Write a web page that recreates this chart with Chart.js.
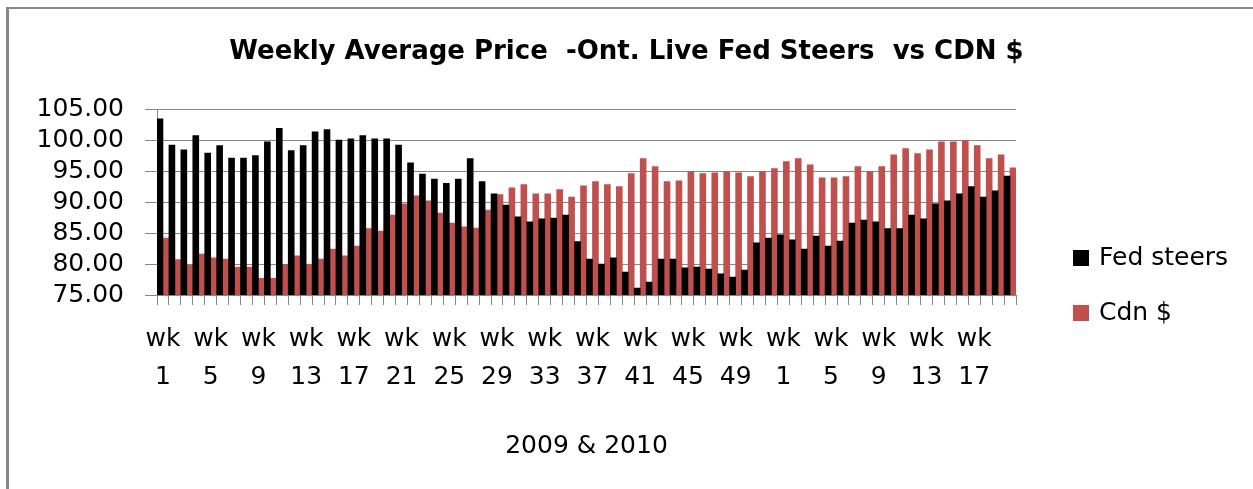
<!DOCTYPE html>
<html>
<head>
<meta charset="utf-8">
<script src="https://cdn.jsdelivr.net/npm/chart.js@4/dist/chart.umd.min.js"></script>
<style>
  html, body { margin: 0; padding: 0; background: #fff; }
  #frame { position: absolute; left: 6px; top: 7px; width: 1247px; height: 482px;
           border-left: 3px solid #878787; border-top: 2px solid #878787; box-sizing: border-box; }
  #chart { position: absolute; left: 0; top: 0; }
</style>
</head>
<body>
<div id="frame"></div>
<canvas id="chart" width="1253" height="489"></canvas>
<script>
// Week numbers: 2009 wk 1-52, then 2010 wk 1-20
const weeks = [
  '1','2','3','4','5','6','7','8','9','10','11','12','13','14','15','16','17','18','19','20',
  '21','22','23','24','25','26','27','28','29','30','31','32','33','34','35','36','37','38','39','40',
  '41','42','43','44','45','46','47','48','49','50','51','52',
  '1','2','3','4','5','6','7','8','9','10','11','12','13','14','15','16','17','18','19','20'
];

const fedSteers = [
  103.4, 99.2, 98.4, 100.7, 97.9, 99.1, 97.1, 97.1, 97.5, 99.7,
  101.9, 98.3, 99.1, 101.3, 101.7, 100.0, 100.2, 100.7, 100.2, 100.2,
  99.2, 96.3, 94.5, 93.7, 93.0, 93.7, 97.0, 93.3, 91.3, 89.5,
  87.6, 86.8, 87.3, 87.4, 87.9, 83.6, 80.8, 80.0, 81.0, 78.7,
  76.1, 77.1, 80.8, 80.8, 79.4, 79.5, 79.2, 78.4, 77.9, 79.0,
  83.4, 84.2,
  84.7, 83.9, 82.4, 84.5, 82.9, 83.7, 86.6, 87.1, 86.8, 85.7,
  85.7, 87.9, 87.3, 89.7, 90.2, 91.3, 92.5, 90.8, 91.8, 94.2
];

const cdnDollar = [
  84.2, 80.7, 79.8, 81.6, 81.0, 80.8, 79.5, 79.5, 77.7, 77.7,
  79.9, 81.3, 79.9, 80.8, 82.4, 81.3, 82.9, 85.7, 85.3, 87.9,
  89.7, 91.0, 90.2, 88.2, 86.6, 86.0, 85.8, 88.7, 91.2, 92.3,
  92.8, 91.3, 91.3, 92.0, 90.8, 92.6, 93.3, 92.8, 92.5, 94.6,
  97.0, 95.7, 93.3, 93.4, 94.9, 94.6, 94.7, 94.9, 94.7, 94.1,
  94.9, 95.4,
  96.5, 97.0, 96.0, 93.9, 93.9, 94.1, 95.7, 94.9, 95.7, 97.6,
  98.6, 97.8, 98.4, 99.7, 99.7, 99.9, 99.1, 97.0, 97.6, 95.5
];

const seriesNames = ['Fed steers', 'Cdn $'];
const seriesColors = ['#000000', '#C0504D'];
const yTicks = [75, 80, 85, 90, 95, 100, 105];

const FONT = 'DejaVu Sans';
const GRID = '#878787';

// legend drawn at the right, like the Excel original
const sideLegend = {
  id: 'sideLegend',
  afterDraw(chart) {
    const ctx = chart.ctx;
    const area = chart.chartArea;
    ctx.save();
    ctx.font = '25px "' + FONT + '"';
    ctx.textBaseline = 'middle';
    ctx.textAlign = 'left';
    chart.data.datasets.forEach((ds, i) => {
      const y = area.bottom - 37 + i * 55;
      ctx.fillStyle = ds.backgroundColor;
      ctx.fillRect(area.right + 57, y - 8, 16, 16);
      ctx.fillStyle = '#000';
      ctx.fillText(ds.label, area.right + 83, y);
    });
    ctx.restore();
  }
};

new Chart(document.getElementById('chart'), {
  type: 'bar',
  data: {
    labels: weeks,
    datasets: [
      { label: seriesNames[0], data: fedSteers, backgroundColor: seriesColors[0] },
      { label: seriesNames[1], data: cdnDollar, backgroundColor: seriesColors[1] }
    ]
  },
  options: {
    responsive: false,
    animation: false,
    layout: { padding: 0 },
    datasets: { bar: { categoryPercentage: 1.0, barPercentage: 1.0 } },
    plugins: {
      legend: { display: false },
      tooltip: { enabled: false },
      title: {
        display: true,
        text: 'Weekly Average Price  -Ont. Live Fed Steers  vs CDN $',
        color: '#000',
        font: { family: FONT, size: 26, weight: 'bold', lineHeight: 1.2 },
        padding: { top: 37, bottom: 40.8 }
      }
    },
    scales: {
      x: {
        offset: true,
        grid: { display: true, drawOnChartArea: false, drawTicks: true, tickLength: 10, color: GRID, offset: true },
        border: { display: true, color: GRID },
        ticks: {
          autoSkip: false,
          maxRotation: 0,
          minRotation: 0,
          padding: 16,
          color: '#000',
          font: { family: FONT, size: 25, lineHeight: 1.5 },
          callback: function(value, index) {
            return index % 4 === 0 ? ['wk', weeks[index]] : '';
          }
        },
        title: {
          display: true,
          text: '2009 & 2010',
          color: '#000',
          font: { family: FONT, size: 25, lineHeight: 1.2 },
          padding: { top: 0, bottom: 28 }
        },
        afterFit: function(scale) { scale.height = 194; }
      },
      y: {
        min: yTicks[0],
        max: yTicks[yTicks.length - 1],
        afterBuildTicks: function(scale) { scale.ticks = yTicks.map(v => ({ value: v })); },
        grid: { color: GRID, lineWidth: 1, drawTicks: true, tickLength: 12 },
        border: { display: true, color: GRID },
        ticks: {
          autoSkip: false,
          stepSize: 5,
          padding: 21,
          color: '#000',
          font: { family: FONT, size: 25 },
          callback: function(value) { return Number(value).toFixed(2); }
        },
        afterFit: function(scale) { scale.width = 157; }
      },
      legendSpace: {
        type: 'linear',
        position: 'right',
        display: true,
        grid: { display: false },
        border: { display: false },
        ticks: { display: false },
        afterFit: function(scale) { scale.width = 237; }
      }
    }
  },
  plugins: [sideLegend]
});
</script>
</body>
</html>
